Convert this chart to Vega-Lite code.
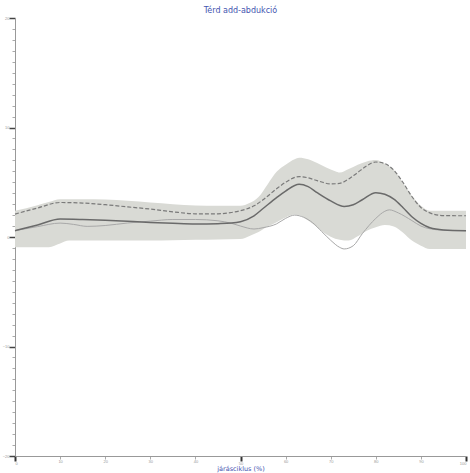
{
  "$schema": "https://vega.github.io/schema/vega-lite/v6.json",
  "width": 451,
  "height": 438,
  "autosize": {"type": "none"},
  "padding": {"left": 15, "top": 18, "right": 4, "bottom": 17},
  "background": "white",
  "title": {"text": "Térd add-abdukció", "font": "DejaVu Sans", "fontSize": 8, "fontWeight": "normal", "color": "#4455b0", "offset": 1, "anchor": "middle"},
  "config": {"view": {"stroke": null}},
  "datasets": {
    "band": [
      {"p":0,"lo":-0.94,"hi":2.39},{"p":5,"lo":-0.94,"hi":2.91},{"p":7.5,"lo":-0.94,"hi":3.2},{"p":10,"lo":-0.6,"hi":3.45},{"p":12,"lo":-0.33,"hi":3.45},{"p":15,"lo":-0.33,"hi":3.45},{"p":20,"lo":-0.33,"hi":3.42},{"p":25,"lo":-0.33,"hi":3.3},{"p":30,"lo":-0.33,"hi":3.15},{"p":35,"lo":-0.3,"hi":3.0},{"p":40,"lo":-0.25,"hi":2.87},{"p":45,"lo":-0.22,"hi":2.85},{"p":50,"lo":-0.18,"hi":2.85},{"p":52,"lo":0.1,"hi":3.1},{"p":54,"lo":0.45,"hi":3.65},{"p":56,"lo":0.95,"hi":4.8},{"p":58,"lo":1.35,"hi":5.95},{"p":60,"lo":1.79,"hi":6.6},{"p":62,"lo":2.05,"hi":7.1},{"p":63,"lo":2.0,"hi":7.24},{"p":65,"lo":1.5,"hi":7.1},{"p":67,"lo":0.9,"hi":6.75},{"p":69,"lo":0.25,"hi":6.35},{"p":71,"lo":-0.15,"hi":6.0},{"p":72,"lo":-0.24,"hi":5.88},{"p":74,"lo":-0.33,"hi":6.2},{"p":76,"lo":0.06,"hi":6.6},{"p":78,"lo":0.58,"hi":6.9},{"p":80,"lo":0.88,"hi":7.03},{"p":82,"lo":1.09,"hi":6.7},{"p":84,"lo":0.97,"hi":6.15},{"p":86,"lo":0.42,"hi":4.97},{"p":88,"lo":-0.33,"hi":3.76},{"p":90,"lo":-0.79,"hi":2.85},{"p":92,"lo":-1.09,"hi":2.39},{"p":95,"lo":-1.09,"hi":2.39},{"p":100,"lo":-1.09,"hi":2.39}
    ],
    "lines": [
      {"p":0,"s":"mean","v":0.58},{"p":5,"s":"mean","v":1.1},{"p":10,"s":"mean","v":1.64},{"p":15,"s":"mean","v":1.6},{"p":20,"s":"mean","v":1.53},{"p":25,"s":"mean","v":1.43},{"p":30,"s":"mean","v":1.33},{"p":35,"s":"mean","v":1.25},{"p":40,"s":"mean","v":1.19},{"p":45,"s":"mean","v":1.22},{"p":48,"s":"mean","v":1.27},{"p":50,"s":"mean","v":1.4},{"p":53,"s":"mean","v":1.94},{"p":55,"s":"mean","v":2.6},{"p":58,"s":"mean","v":3.6},{"p":60,"s":"mean","v":4.2},{"p":63,"s":"mean","v":4.82},{"p":65,"s":"mean","v":4.6},{"p":67,"s":"mean","v":4.05},{"p":70,"s":"mean","v":3.3},{"p":73,"s":"mean","v":2.79},{"p":75,"s":"mean","v":2.95},{"p":77,"s":"mean","v":3.4},{"p":80,"s":"mean","v":4.05},{"p":82,"s":"mean","v":3.9},{"p":84,"s":"mean","v":3.45},{"p":86,"s":"mean","v":2.7},{"p":88,"s":"mean","v":1.85},{"p":90,"s":"mean","v":1.25},{"p":92,"s":"mean","v":0.85},{"p":95,"s":"mean","v":0.65},{"p":100,"s":"mean","v":0.58},
      {"p":0,"s":"plus","v":2.09},{"p":5,"s":"plus","v":2.65},{"p":10,"s":"plus","v":3.15},{"p":15,"s":"plus","v":3.1},{"p":20,"s":"plus","v":2.95},{"p":25,"s":"plus","v":2.75},{"p":30,"s":"plus","v":2.55},{"p":35,"s":"plus","v":2.3},{"p":40,"s":"plus","v":2.12},{"p":45,"s":"plus","v":2.12},{"p":48,"s":"plus","v":2.24},{"p":50,"s":"plus","v":2.4},{"p":53,"s":"plus","v":2.85},{"p":55,"s":"plus","v":3.4},{"p":58,"s":"plus","v":4.4},{"p":60,"s":"plus","v":5.0},{"p":63,"s":"plus","v":5.52},{"p":65,"s":"plus","v":5.4},{"p":67,"s":"plus","v":5.15},{"p":70,"s":"plus","v":4.85},{"p":72,"s":"plus","v":4.9},{"p":74,"s":"plus","v":5.3},{"p":76,"s":"plus","v":5.9},{"p":78,"s":"plus","v":6.5},{"p":80,"s":"plus","v":6.85},{"p":82,"s":"plus","v":6.7},{"p":84,"s":"plus","v":6.1},{"p":86,"s":"plus","v":5.0},{"p":88,"s":"plus","v":3.7},{"p":90,"s":"plus","v":2.7},{"p":92,"s":"plus","v":2.2},{"p":95,"s":"plus","v":1.95},{"p":100,"s":"plus","v":1.94},
      {"p":0,"s":"thin","v":0.58},{"p":5,"s":"thin","v":0.95},{"p":10,"s":"thin","v":1.27},{"p":13,"s":"thin","v":1.15},{"p":16,"s":"thin","v":0.97},{"p":20,"s":"thin","v":1.05},{"p":25,"s":"thin","v":1.28},{"p":30,"s":"thin","v":1.45},{"p":35,"s":"thin","v":1.6},{"p":40,"s":"thin","v":1.6},{"p":45,"s":"thin","v":1.48},{"p":48,"s":"thin","v":1.25},{"p":50,"s":"thin","v":1.0},{"p":53,"s":"thin","v":0.73},{"p":55,"s":"thin","v":0.85},{"p":58,"s":"thin","v":1.2},{"p":60,"s":"thin","v":1.7},{"p":62,"s":"thin","v":2.0},{"p":64,"s":"thin","v":1.8},{"p":66,"s":"thin","v":1.3},{"p":68,"s":"thin","v":0.5},{"p":70,"s":"thin","v":-0.3},{"p":72,"s":"thin","v":-0.95},{"p":73,"s":"thin","v":-1.09},{"p":75,"s":"thin","v":-0.8},{"p":77,"s":"thin","v":0.3},{"p":80,"s":"thin","v":1.7},{"p":82,"s":"thin","v":2.35},{"p":83,"s":"thin","v":2.48},{"p":85,"s":"thin","v":2.2},{"p":88,"s":"thin","v":1.5},{"p":90,"s":"thin","v":1.0},{"p":92,"s":"thin","v":0.75},{"p":95,"s":"thin","v":0.62},{"p":100,"s":"thin","v":0.58}
    ]
  },
  "layer": [
    {
      "data": {"name": "band"},
      "mark": {"type": "area", "color": "#d9dad5", "interpolate": "monotone"},
      "encoding": {
        "x": {"field": "p", "type": "quantitative", "scale": {"domain": [0, 100], "nice": false},
          "axis": {"values": [0,5,10,15,20,25,30,35,40,45,50,55,60,65,70,75,80,85,90,95,100], "format": "d", "title": "járásciklus (%)", "titleFont": "DejaVu Sans", "titleFontSize": 6.5, "titleFontWeight": "normal", "titleColor": "#4455b0", "titlePadding": 0.5, "labelFontSize": 4, "labelColor": "#999", "labelPadding": 0, "domainColor": "#999", "tickColor": {"condition": {"test": "datum.value % 25 === 0", "value": "#333"}, "value": "#aaa"}, "tickSize": {"condition": {"test": "datum.value % 25 === 0", "value": 5}, "value": 3}, "tickWidth": {"condition": {"test": "datum.value % 25 === 0", "value": 2}, "value": 1}, "grid": false}},
        "y": {"field": "lo", "type": "quantitative", "scale": {"domain": [-20, 20], "nice": false},
          "axis": {"tickCount": 80, "format": "d", "title": null, "labelExpr": "datum.value % 10 === 0 ? datum.label : ''", "labelFontSize": 4, "labelColor": "#999", "labelPadding": 0, "domainColor": "#999", "tickColor": {"condition": {"test": "datum.value % 10 === 0", "value": "#444"}, "value": "#aaa"}, "tickSize": {"condition": {"test": "datum.value % 10 === 0", "value": 6}, "value": 3}, "tickWidth": {"condition": {"test": "datum.value % 10 === 0", "value": 1.5}, "value": 1}, "grid": false}},
        "y2": {"field": "hi"}
      }
    },
    {
      "data": {"name": "lines"},
      "transform": [{"filter": "datum.s === 'thin'"}],
      "mark": {"type": "line", "color": "#a8a8a8", "strokeWidth": 1, "interpolate": "monotone"},
      "encoding": {"x": {"field": "p", "type": "quantitative"}, "y": {"field": "v", "type": "quantitative"}}
    },
    {
      "data": {"name": "lines"},
      "transform": [{"filter": "datum.s === 'plus'"}],
      "mark": {"type": "line", "color": "#7a7a7a", "strokeWidth": 1.2, "strokeDash": [4, 2], "interpolate": "monotone"},
      "encoding": {"x": {"field": "p", "type": "quantitative"}, "y": {"field": "v", "type": "quantitative"}}
    },
    {
      "data": {"name": "lines"},
      "transform": [{"filter": "datum.s === 'mean'"}],
      "mark": {"type": "line", "color": "#6a6a6a", "strokeWidth": 1.5, "interpolate": "monotone"},
      "encoding": {"x": {"field": "p", "type": "quantitative"}, "y": {"field": "v", "type": "quantitative"}}
    },
    {
      "mark": {"type": "rule", "color": "#2a2a2a", "strokeWidth": 2},
      "encoding": {"y": {"datum": 0}}
    }
  ]
}
